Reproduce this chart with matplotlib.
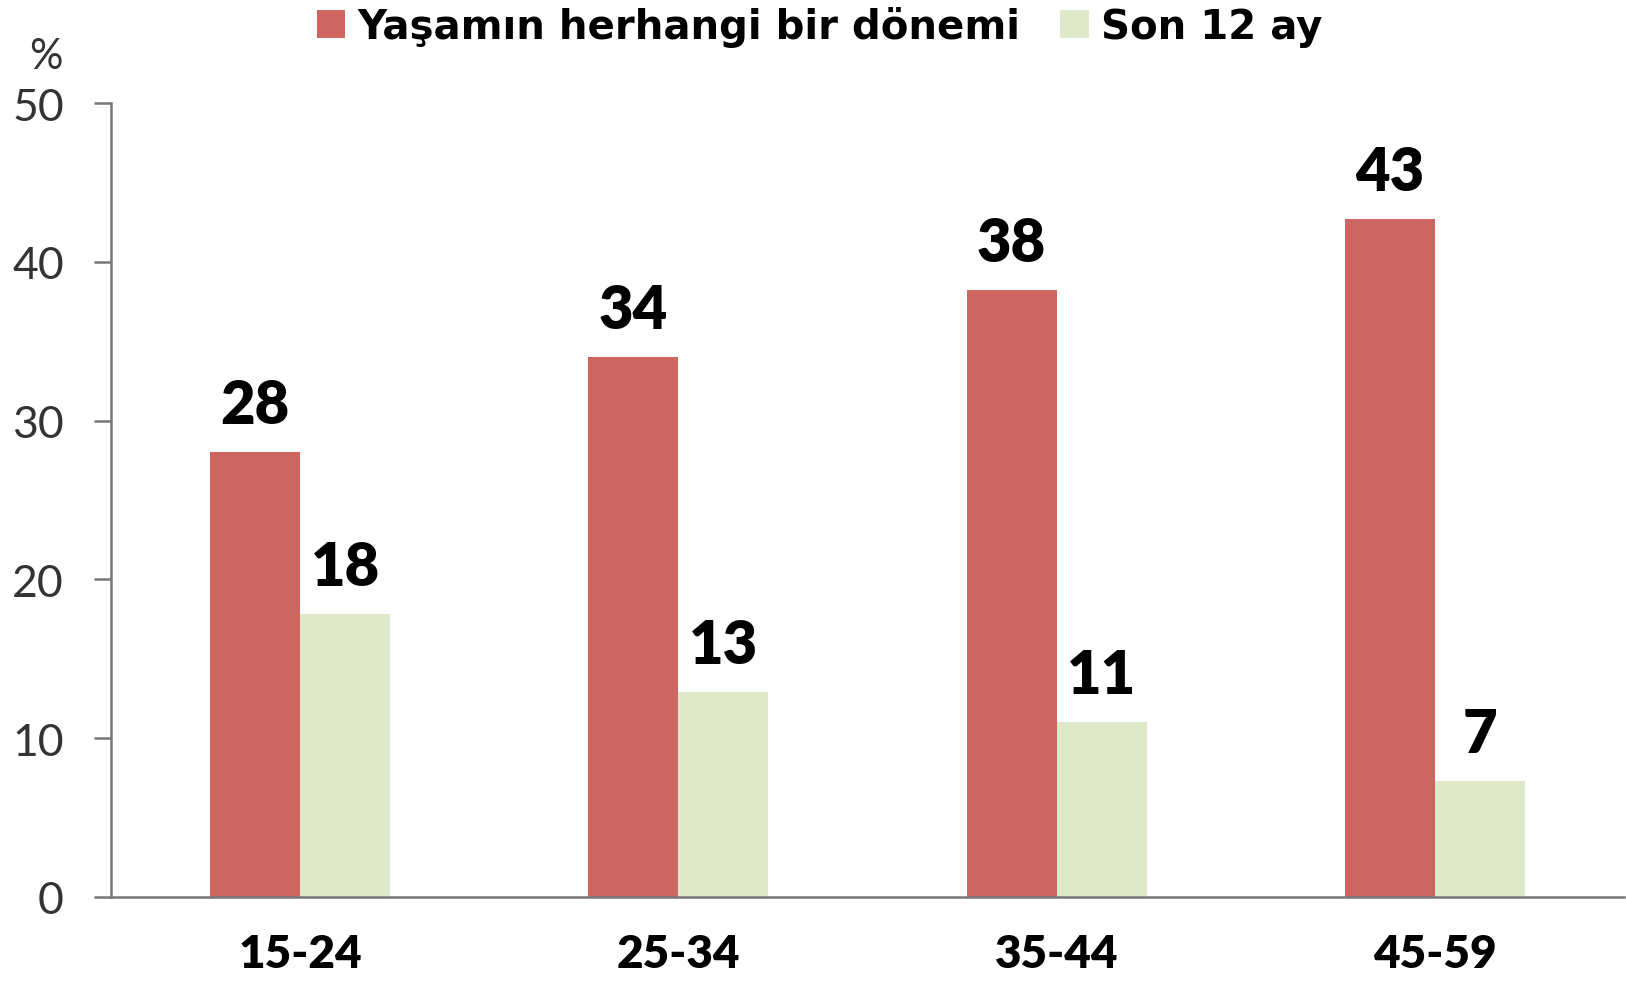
import matplotlib
matplotlib.use("Agg")
import matplotlib.pyplot as plt
import numpy as np

categories = ["15-24", "25-34", "35-44", "45-59"]
lifetime = [28.0, 34.0, 38.2, 42.7]
last12 = [17.8, 12.9, 11.0, 7.3]
lifetime_labels = ["28", "34", "38", "43"]
last12_labels = ["18", "13", "11", "7"]
series_names = ["Yaşamın herhangi bir dönemi", "Son 12 ay"]
yticks = [0, 10, 20, 30, 40, 50]

RED = "#CD6560"
GREEN = "#DFE8C9"

fig = plt.figure(figsize=(16.26, 9.87), dpi=100)
ax = fig.add_axes([0.0683, 0.0902, 0.9305, 0.8044])

x = np.arange(len(categories))
w = 0.238
b1 = ax.bar(x - w / 2, lifetime, width=w, color=RED, label=series_names[0])
b2 = ax.bar(x + w / 2, last12, width=w, color=GREEN, label=series_names[1])

lab_font = dict(family=["Lato", "DejaVu Sans"], weight="heavy", fontsize=43)
for rect, t in zip(b1, lifetime_labels):
    ax.annotate(t, (rect.get_x() + rect.get_width() / 2, rect.get_height()),
                xytext=(0, 14), textcoords="offset points", ha="center", va="bottom", **lab_font)
for rect, t in zip(b2, last12_labels):
    ax.annotate(t, (rect.get_x() + rect.get_width() / 2, rect.get_height()),
                xytext=(0, 14), textcoords="offset points", ha="center", va="bottom", **lab_font)

ax.set_xlim(-0.5, len(categories) - 0.5)
ax.set_ylim(0, 50)
ax.set_yticks(yticks)
ax.set_yticklabels([str(v) for v in yticks], family=["Lato", "DejaVu Sans"], weight="normal",
                   fontsize=32, color="#333333")
ax.set_xticks(x)
ax.set_xticklabels(categories, family=["Lato", "DejaVu Sans"], weight="heavy", fontsize=33)

for s in ["top", "right"]:
    ax.spines[s].set_visible(False)
for s in ["left", "bottom"]:
    ax.spines[s].set_color("#777777")
    ax.spines[s].set_linewidth(1.8)
ax.tick_params(axis="y", length=12, width=1.8, color="#777777", pad=22)
ax.tick_params(axis="x", length=0, pad=26)

fig.text(0.028, 0.942, "%", fontsize=30, family=["Lato", "DejaVu Sans"], weight="normal",
         color="#333333", ha="center", va="center")

leg = fig.legend(handles=[b1, b2], labels=series_names, loc="center", bbox_to_anchor=(0.504, 0.972),
                 ncol=2, frameon=False, prop=dict(family=["DejaVu Sans"], weight="bold", size=29),
                 handlelength=0.7, handleheight=0.7, handletextpad=0.3, columnspacing=1.0)

fig.savefig("out.png", dpi=100)
